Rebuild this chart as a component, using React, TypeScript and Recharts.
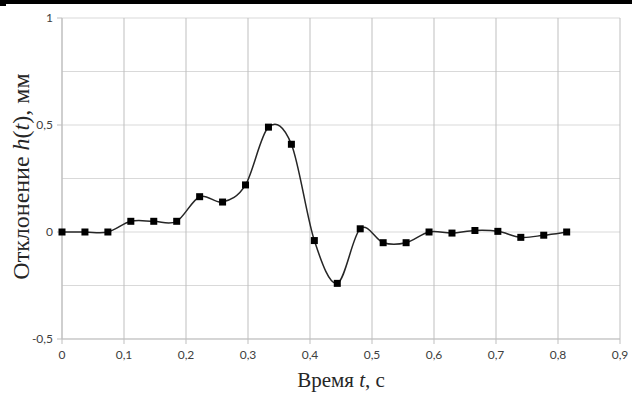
import { CartesianGrid, Line, LineChart, XAxis, YAxis } from 'recharts'

const times = [
  0, 0.037, 0.074, 0.111, 0.148, 0.185, 0.222, 0.259, 0.296, 0.333, 0.37, 0.407,
  0.444, 0.481, 0.518, 0.555, 0.592, 0.629, 0.666, 0.703, 0.74, 0.777, 0.814,
]
const deflection = [
  0, 0, 0, 0.05, 0.05, 0.05, 0.165, 0.14, 0.22, 0.49, 0.41, -0.04,
  -0.24, 0.015, -0.05, -0.05, 0, -0.005, 0.007, 0.003, -0.025, -0.015, 0,
]
const xTicks = [0, 0.1, 0.2, 0.3, 0.4, 0.5, 0.6, 0.7, 0.8, 0.9]
const yTicks = [-0.5, 0, 0.5, 1]
const yGrid = [-0.5, -0.25, 0, 0.25, 0.5, 0.75, 1]

const data = times.map((t, i) => ({ t, h: deflection[i] }))

const comma = (v: number) => String(v).replace('.', ',')

// smooth curve like Excel's "smoothed line" (Catmull-Rom through the points)
const smooth = (ctx: any) => {
  let pts: number[][] = []
  return {
    areaStart() {},
    areaEnd() {},
    lineStart() {
      pts = []
    },
    point(x: number, y: number) {
      pts.push([+x, +y])
    },
    lineEnd() {
      if (!pts.length) return
      ctx.moveTo(pts[0][0], pts[0][1])
      for (let i = 0; i < pts.length - 1; i++) {
        const p0 = pts[i - 1] || pts[i]
        const p1 = pts[i]
        const p2 = pts[i + 1]
        const p3 = pts[i + 2] || p2
        ctx.bezierCurveTo(
          p1[0] + (p2[0] - p0[0]) / 6,
          p1[1] + (p2[1] - p0[1]) / 6,
          p2[0] - (p3[0] - p1[0]) / 6,
          p2[1] - (p3[1] - p1[1]) / 6,
          p2[0],
          p2[1],
        )
      }
    },
  }
}

const SquareDot = (props: any) => {
  const { cx, cy, index } = props
  return <rect key={index} x={cx - 3.5} y={cy - 3.5} width={7} height={7} fill="#000" />
}

const serif = '"Liberation Serif", "Times New Roman", serif'
const tickStyle = { fontFamily: 'Lato, "Open Sans", sans-serif', fontSize: 12, fill: '#404040' }

const YTitle = ({ viewBox }: any) => {
  const cx = 21
  const cy = viewBox.y + viewBox.height / 2 - 2
  return (
    <text x={cx} y={cy} transform={`rotate(-90 ${cx} ${cy})`} textAnchor="middle" dominantBaseline="central" fontFamily={serif} fontSize={24} fill="#262626">
      Отклонение <tspan fontStyle="italic">h</tspan>(<tspan fontStyle="italic">t</tspan>), мм
    </text>
  )
}

const XTitle = ({ viewBox }: any) => {
  const cx = viewBox.x + viewBox.width / 2
  return (
    <text x={cx} y={viewBox.y + 48} textAnchor="middle" fontFamily={serif} fontSize={21} fill="#262626">
      Время <tspan fontStyle="italic">t</tspan>, с
    </text>
  )
}

export default function App() {
  return (
    <div style={{ position: 'absolute', left: 0, top: 0, width: 638, height: 396, background: '#fff', overflow: 'hidden' }}>
      <div style={{ position: 'absolute', left: 0, top: 0, width: 632, height: 4, background: '#000' }} />
      <div style={{ position: 'absolute', left: 0, top: 4, width: 6, height: 2, background: '#000' }} />
      <LineChart width={638} height={396} data={data} margin={{ top: 18, right: 18, left: 0, bottom: 0 }}>
        <CartesianGrid vertical={false} horizontalValues={yGrid} stroke="#d9d9d9" strokeWidth={1} />
        <CartesianGrid horizontal={false} verticalValues={xTicks} stroke="#bfbfbf" strokeWidth={1} />
        <XAxis
          dataKey="t"
          type="number"
          domain={[0, 0.9]}
          ticks={xTicks}
          tickFormatter={comma}
          height={57}
          tick={tickStyle}
          tickSize={5}
          tickMargin={6}
          stroke="#bfbfbf"
          label={<XTitle />}
        />
        <YAxis
          type="number"
          domain={[-0.5, 1]}
          ticks={yTicks}
          tickFormatter={comma}
          width={62}
          tick={tickStyle}
          tickSize={5}
          tickMargin={4}
          stroke="#bfbfbf"
          label={<YTitle />}
        />
        <Line
          dataKey="h"
          type={smooth as any}
          stroke="#262626"
          strokeWidth={1.5}
          dot={<SquareDot />}
          activeDot={false}
          isAnimationActive={false}
        />
      </LineChart>
    </div>
  )
}
